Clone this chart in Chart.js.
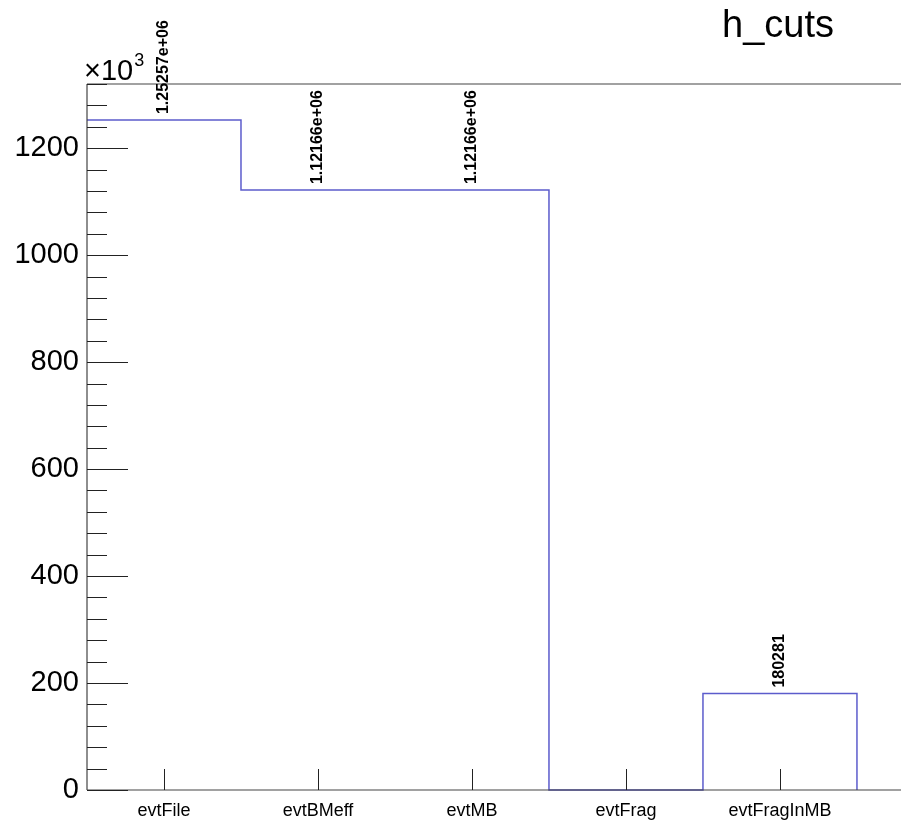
<!DOCTYPE html>
<html>
<head>
<meta charset="utf-8">
<script src="https://cdn.jsdelivr.net/npm/chart.js@4.4.1/dist/chart.umd.min.js"></script>
<style>
  html, body { margin: 0; padding: 0; background: #fff; overflow: hidden; }
  #wrap { width: 901px; height: 820px; }
</style>
</head>
<body>
<div id="wrap"><canvas id="c" width="901" height="820"></canvas></div>
<script>
// ── data: h_cuts bin contents ──
const categories = ['evtFile', 'evtBMeff', 'evtMB', 'evtFrag', 'evtFragInMB'];
const counts     = [1252570, 1121660, 1121660, 0, 180281];
const yTicks     = [0, 200, 400, 600, 800, 1000, 1200];

const FONT = '"Liberation Sans", Arial, Helvetica, sans-serif';
const LINE = 'rgb(92,92,204)';

// ROOT-ish %g formatting for the bin labels
function fmtG(v) {
  let s = Number(v).toPrecision(6);
  if (s.includes('e')) {
    s = s.replace(/e([+-])(\d)$/, 'e$10$2');
  } else if (s.includes('.')) {
    s = s.replace(/\.?0+$/, '');
  }
  return s;
}

// step outline: horizontal over each bin, then drop to the next
const stepPts = counts.map((c, i) => ({ x: i, y: c / 1000 }));
stepPts.push({ x: counts.length, y: counts[counts.length - 1] / 1000 });
stepPts.push({ x: counts.length, y: 0 });

const rootFrame = {
  id: 'rootFrame',
  afterDraw(chart) {
    const { ctx, chartArea: a, scales: { x, y } } = chart;
    ctx.save();

    // frame / axes
    ctx.strokeStyle = '#444';
    ctx.lineWidth = 1.2;
    ctx.beginPath();
    ctx.moveTo(a.left, a.top); ctx.lineTo(a.right, a.top);
    ctx.moveTo(a.left, a.top); ctx.lineTo(a.left, a.bottom);
    ctx.moveTo(a.left, a.bottom); ctx.lineTo(a.right, a.bottom);
    ctx.stroke();

    // y ticks: major every 200, 4 minors between
    ctx.strokeStyle = '#222';
    ctx.lineWidth = 1;
    ctx.beginPath();
    for (let v = 0; v <= y.max; v += 40) {
      const py = Math.round(y.getPixelForValue(v)) + 0.5;
      const len = (v % 200 === 0) ? 41 : 20;
      ctx.moveTo(a.left, py); ctx.lineTo(a.left + len, py);
    }
    // x ticks at bin centres
    categories.forEach((_, i) => {
      const px = Math.round(x.getPixelForValue(i + 0.5)) + 0.5;
      ctx.moveTo(px, a.bottom); ctx.lineTo(px, a.bottom - 21);
    });
    ctx.stroke();

    // bin content labels, rotated
    ctx.fillStyle = '#000';
    ctx.font = 'bold 16px ' + FONT;
    ctx.textAlign = 'left';
    ctx.textBaseline = 'middle';
    counts.forEach((c, i) => {
      if (!c) return;
      const px = x.getPixelForValue(i + 0.5);
      const py = y.getPixelForValue(c / 1000) - 6;
      ctx.save();
      ctx.translate(px, py);
      ctx.rotate(-Math.PI / 2);
      ctx.fillText(fmtG(c), 0, 0);
      ctx.restore();
    });

    // title
    ctx.font = '38px ' + FONT;
    ctx.textAlign = 'left';
    ctx.textBaseline = 'alphabetic';
    ctx.fillText('h_cuts', 722, 37);

    // x10^3 multiplier
    ctx.font = '29px ' + FONT;
    ctx.fillText('\u00d710', 84, 80);
    const w = ctx.measureText('\u00d710').width;
    ctx.font = '18px ' + FONT;
    ctx.fillText('3', 84 + w + 1, 66);

    ctx.restore();
  }
};

new Chart(document.getElementById('c'), {
  type: 'line',
  data: {
    datasets: [{
      data: stepPts,
      stepped: 'before',
      borderColor: LINE,
      borderWidth: 1.5,
      pointRadius: 0,
      fill: false,
      clip: false,
    }]
  },
  options: {
    responsive: false,
    animation: false,
    layout: { padding: { top: 84, right: 0, left: 0, bottom: 0 } },
    plugins: { legend: { display: false }, tooltip: { enabled: false } },
    scales: {
      x: {
        type: 'linear', min: 0, max: 5.286,
        grid: { display: false }, border: { display: false },
        afterBuildTicks: s => { s.ticks = categories.map((_, i) => ({ value: i + 0.5 })); },
        afterFit: s => { s.height = 30; },
        ticks: {
          padding: 2,
          color: '#000',
          font: { family: FONT, size: 18 },
          callback: v => categories[Math.floor(v)],
          maxRotation: 0,
        },
      },
      y: {
        min: 0, max: 1320,
        grid: { display: false }, border: { display: false },
        afterBuildTicks: s => { s.ticks = yTicks.map(v => ({ value: v })); },
        afterFit: s => { s.width = 87; },
        ticks: {
          padding: 0,
          color: '#000',
          font: { family: FONT, size: 29 },
          callback: v => String(v),
        },
      },
    },
  },
  plugins: [rootFrame],
});
</script>
</body>
</html>
